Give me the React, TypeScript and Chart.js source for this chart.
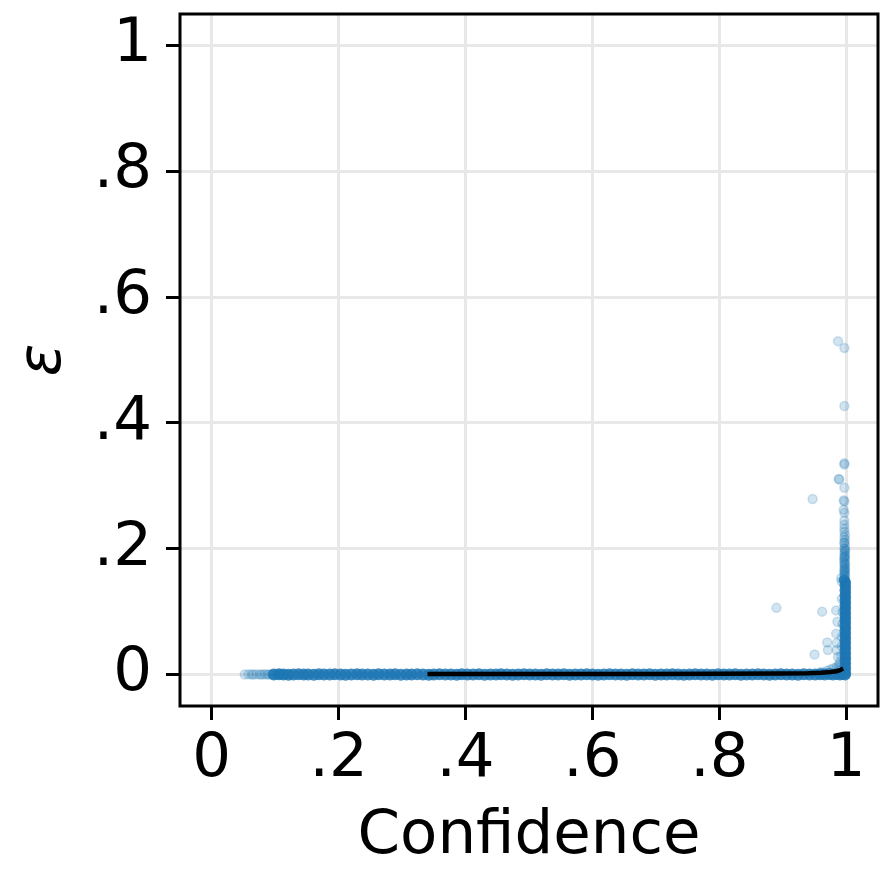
import React, { useEffect, useRef } from "react";
import { Chart, registerables } from "chart.js";

Chart.register(...registerables);

const FONT = "'DejaVu Sans', 'Liberation Sans', sans-serif";

const xTickValues = [0, 0.2, 0.4, 0.6, 0.8, 1];
const xTickLabels = ["0", ".2", ".4", ".6", ".8", "1"];
const yTickValues = [0, 0.2, 0.4, 0.6, 0.8, 1];
const yTickLabels = ["0", ".2", ".4", ".6", ".8", "1"];

const xTitle = "Confidence";
const yTitle = "ε";

// dense horizontal band of samples near epsilon = 0
const bandPoints: [number, number][] = [
  [0.098, 0], [0.106, 0.0005], [0.113, 0], [0.121, -0.0005], [0.129, 0], [0.137, 0.0005],
  [0.145, 0], [0.152, 0], [0.161, -0.0005], [0.169, 0.0005], [0.177, 0], [0.186, 0],
  [0.194, 0.0005], [0.203, 0], [0.211, -0.0005], [0.22, 0], [0.229, 0.0005], [0.237, 0],
  [0.246, 0], [0.255, -0.0005], [0.263, 0.0005], [0.272, 0], [0.281, 0], [0.289, 0.0005],
  [0.298, -0.0005], [0.307, 0], [0.315, 0], [0.324, 0.0005], [0.333, 0], [0.342, -0.0005],
  [0.35, 0], [0.359, 0.0005], [0.368, 0], [0.377, 0], [0.386, -0.0005], [0.394, 0.0005],
  [0.403, 0], [0.412, 0], [0.421, 0.0005], [0.43, -0.0005], [0.439, 0], [0.448, 0],
  [0.456, 0.0005], [0.465, 0], [0.474, -0.0005], [0.483, 0], [0.492, 0.0005], [0.501, 0],
  [0.51, 0], [0.519, -0.0005], [0.528, 0.0005], [0.537, 0], [0.546, 0], [0.555, 0.0005],
  [0.564, -0.0005], [0.573, 0], [0.582, 0], [0.591, 0.0005], [0.6, 0], [0.609, -0.0005],
  [0.618, 0], [0.627, 0.0005], [0.636, 0], [0.645, 0], [0.654, -0.0005], [0.663, 0.0005],
  [0.672, 0], [0.681, 0], [0.69, 0.0005], [0.699, -0.0005], [0.708, 0], [0.717, 0],
  [0.726, 0.0005], [0.735, 0], [0.744, -0.0005], [0.753, 0], [0.762, 0.0005], [0.771, 0],
  [0.78, 0], [0.789, -0.0005], [0.798, 0.0005], [0.807, 0], [0.816, 0], [0.825, 0.0005],
  [0.834, -0.0005], [0.843, 0], [0.852, 0], [0.861, 0.0005], [0.87, 0], [0.879, -0.0005],
  [0.888, 0], [0.897, 0.0005], [0.906, 0], [0.915, 0], [0.924, -0.0005], [0.933, 0.0005],
  [0.942, 0], [0.951, 0], [0.959, 0.0005], [0.966, 0], [0.973, 0.001], [0.979, 0],
  [0.985, 0.001], [0.99, 0], [0.994, 0.001], [0.998, 0],
];

// dense vertical column of samples near confidence = 1
const columnPoints: [number, number][] = [
  [0.999, 0.002], [0.998, 0.006], [0.999, 0.01], [0.998, 0.014], [0.999, 0.018], [0.998, 0.022],
  [0.999, 0.026], [0.998, 0.03], [0.999, 0.034], [0.998, 0.038], [0.999, 0.042], [0.998, 0.046],
  [0.999, 0.05], [0.998, 0.054], [0.999, 0.058], [0.998, 0.062], [0.999, 0.066], [0.998, 0.07],
  [0.999, 0.074], [0.998, 0.078], [0.999, 0.082], [0.998, 0.086], [0.999, 0.09], [0.998, 0.094],
  [0.999, 0.098], [0.998, 0.102], [0.999, 0.106], [0.998, 0.11], [0.999, 0.114], [0.998, 0.118],
  [0.999, 0.122], [0.998, 0.126], [0.999, 0.13], [0.998, 0.134], [0.999, 0.138], [0.998, 0.142],
  [0.999, 0.146], [0.997, 0.15],
];

// sparse, translucent samples (tails and outliers)
const sparsePoints: [number, number][] = [
  [0.052, 0], [0.058, 0.0005], [0.063, 0], [0.066, 0], [0.071, 0.0005], [0.076, 0],
  [0.079, 0], [0.083, 0.0005], [0.087, 0], [0.09, 0], [0.094, 0.0005], [0.097, 0],
  [0.1, 0], [0.104, 0], [0.107, 0.0005], [0.111, 0], [0.116, 0], [0.12, 0],
  [0.997, 0.227], [0.998, 0.222], [0.997, 0.218], [0.998, 0.214], [0.997, 0.209], [0.998, 0.205],
  [0.997, 0.2], [0.998, 0.197], [0.997, 0.193], [0.998, 0.19], [0.997, 0.186], [0.998, 0.183],
  [0.997, 0.18], [0.998, 0.176], [0.997, 0.173], [0.998, 0.17], [0.997, 0.167], [0.998, 0.164],
  [0.997, 0.161], [0.998, 0.158], [0.997, 0.156], [0.998, 0.153], [0.992, 0.153], [0.993, 0.148],
  [0.998, 0.175], [0.997, 0.185], [0.998, 0.195], [0.997, 0.165], [0.998, 0.16], [0.998, 0.2],
  [0.997, 0.21], [0.998, 0.168], [0.997, 0.178], [0.998, 0.188],
  [0.997, 0.245], [0.997, 0.257], [0.996, 0.262], [0.997, 0.275], [0.996, 0.277], [0.997, 0.297],
  [0.988, 0.311], [0.989, 0.31], [0.997, 0.336], [0.997, 0.334], [0.997, 0.238], [0.997, 0.232],
  [0.987, 0.53], [0.997, 0.519], [0.997, 0.427], [0.947, 0.279], [0.89, 0.106], [0.962, 0.1],
  [0.984, 0.102], [0.986, 0.084], [0.97, 0.051], [0.971, 0.039], [0.95, 0.032], [0.984, 0.065],
  [0.985, 0.039], [0.985, 0.05], [0.987, 0.028], [0.99, 0.02], [0.99, 0.012], [0.988, 0.015],
  [0.992, 0.03], [0.993, 0.045], [0.993, 0.06], [0.994, 0.08], [0.994, 0.1], [0.993, 0.12],
  [0.96, 0.004], [0.97, 0.006], [0.975, 0.008], [0.98, 0.01], [0.985, 0.012], [0.99, 0.006],
  [0.965, 0.003],
];

// binned mean trend
const trendConfidence = [0.34, 0.4, 0.5, 0.6, 0.7, 0.8, 0.9, 0.94, 0.96, 0.975, 0.985, 0.99, 0.995];
const trendEpsilon = [0.001, 0.001, 0.001, 0.001, 0.001, 0.0012, 0.0015, 0.0022, 0.003, 0.004, 0.0052, 0.007, 0.0095];

const toXY = (pts: [number, number][]) => pts.map(([x, y]) => ({ x, y }));

const labelFor = (values: number[], labels: string[], v: number) => {
  const i = values.findIndex((t) => Math.abs(t - v) < 1e-9);
  return i >= 0 ? labels[i] : "";
};

const boxPlugin = {
  id: "axesBox",
  afterDraw(chart: any) {
    const { ctx, chartArea } = chart;
    ctx.save();
    ctx.strokeStyle = "#000";
    ctx.lineWidth = 3;
    ctx.strokeRect(chartArea.left, chartArea.top, chartArea.right - chartArea.left, chartArea.bottom - chartArea.top);
    ctx.restore();
  },
};

export default function App() {
  const ref = useRef<HTMLCanvasElement | null>(null);

  useEffect(() => {
    if (!ref.current) return;
    const tickFont = { family: FONT, size: 61 };
    const chart = new Chart(ref.current, {
      type: "scatter",
      data: {
        datasets: [
          {
            type: "line",
            data: trendConfidence.map((x, i) => ({ x, y: trendEpsilon[i] })),
            borderColor: "#000",
            borderWidth: 4.5,
            pointRadius: 0,
            fill: false,
            tension: 0,
            order: 0,
          } as any,
          {
            data: toXY(sparsePoints),
            backgroundColor: "rgba(31,119,180,0.2)",
            borderColor: "rgba(31,119,180,0.2)",
            borderWidth: 1.5,
            pointRadius: 4.5,
            order: 1,
          },
          {
            data: toXY(bandPoints),
            backgroundColor: "rgba(31,119,180,0.85)",
            borderWidth: 0,
            pointRadius: 6,
            order: 2,
          },
          {
            data: toXY(columnPoints),
            backgroundColor: "rgba(31,119,180,0.85)",
            borderWidth: 0,
            pointRadius: 5.5,
            order: 2,
          },
        ],
      },
      options: {
        responsive: false,
        animation: false,
        devicePixelRatio: 1,
        layout: { padding: { top: 14, right: 14, left: 0, bottom: 0 } },
        plugins: { legend: { display: false }, tooltip: { enabled: false } },
        scales: {
          x: {
            type: "linear",
            min: -0.05,
            max: 1.05,
            afterBuildTicks: (s: any) => {
              s.ticks = xTickValues.map((v) => ({ value: v }));
            },
            afterFit: (s: any) => {
              s.height = 182;
              s.paddingLeft = 0;
              s.paddingRight = 0;
            },
            ticks: {
              callback: (v: any) => labelFor(xTickValues, xTickLabels, Number(v)),
              font: tickFont,
              color: "#000",
              padding: 4,
              maxRotation: 0,
              autoSkip: false,
            },
            grid: {
              color: "#e8e8e8",
              lineWidth: 3,
              tickColor: "#000",
              tickWidth: 3,
              tickLength: 14,
              drawTicks: true,
            },
            border: { display: false },
            title: {
              display: true,
              text: xTitle,
              font: { family: FONT, size: 61 },
              color: "#000",
              padding: { top: 0, bottom: 14 },
            },
          },
          y: {
            type: "linear",
            min: -0.05,
            max: 1.05,
            afterBuildTicks: (s: any) => {
              s.ticks = yTickValues.map((v) => ({ value: v }));
            },
            afterFit: (s: any) => {
              s.width = 180;
              s.paddingTop = 0;
              s.paddingBottom = 0;
            },
            ticks: {
              callback: (v: any) => labelFor(yTickValues, yTickLabels, Number(v)),
              font: tickFont,
              color: "#000",
              padding: 14,
              autoSkip: false,
            },
            grid: {
              color: "#e8e8e8",
              lineWidth: 3,
              tickColor: "#000",
              tickWidth: 3,
              tickLength: 14,
              drawTicks: true,
            },
            border: { display: false },
            title: {
              display: true,
              text: yTitle,
              font: { family: FONT, size: 61, style: "italic" },
              color: "#000",
              padding: { top: 8, bottom: 0 },
            },
          },
        },
      },
      plugins: [boxPlugin],
    } as any);
    return () => chart.destroy();
  }, []);

  return (
    <div style={{ position: "fixed", left: 0, top: 0, width: 892, height: 888, background: "#fff" }}>
      <canvas ref={ref} width={892} height={888} style={{ display: "block", width: 892, height: 888 }} />
    </div>
  );
}
